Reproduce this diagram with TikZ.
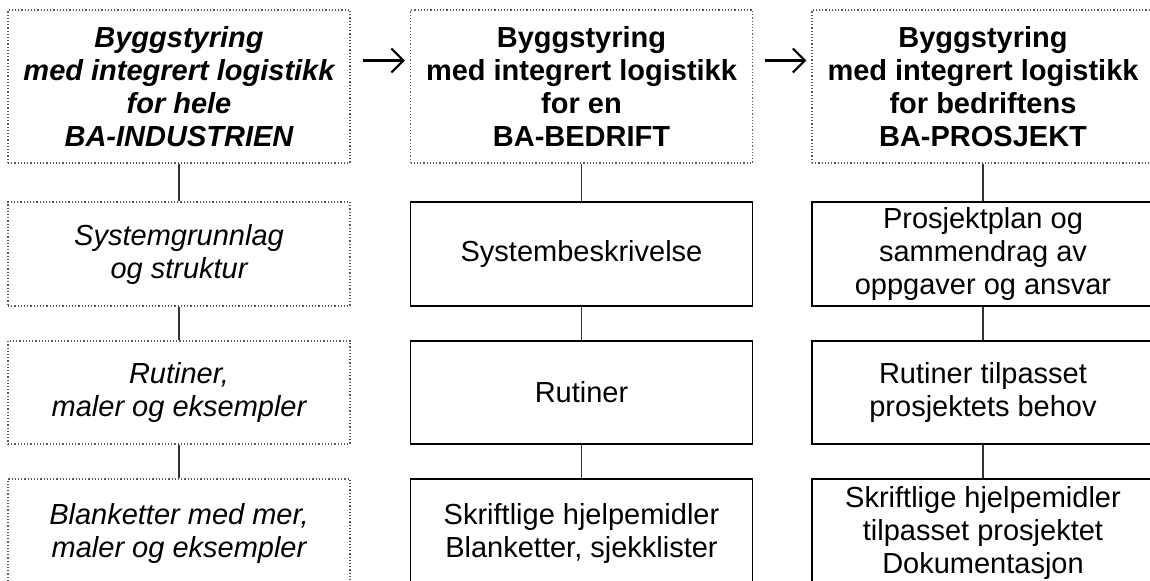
\documentclass[tikz,border=0pt]{standalone}
\usepackage{fontspec}
\setmainfont{Liberation Sans}
\usetikzlibrary{arrows.meta}
\newcommand\boxfont{\fontsize{14.5}{16.5}\selectfont}
\tikzset{
  box/.style={minimum width=171pt, inner sep=0pt, align=center, font=\boxfont},
  dotbox/.style={box, draw=black!65, densely dotted, line width=0.6pt},
  solidbox/.style={box, draw=black, line width=0.9pt},
  link/.style={draw=black!80, line width=0.7pt},
  goes/.style={-{Straight Barb[length=6pt,width=12pt]}, line width=1.1pt, shorten <=6pt, shorten >=2.5pt}
}
\begin{document}
\begin{tikzpicture}[x=0.5pt,y=-0.5pt]
  \useasboundingbox (0,0) rectangle (1150,580);
  \clip (0,0) rectangle (1150,580);
  % left column: the whole industry
  \node[dotbox, minimum height=76.5pt, font=\boxfont\bfseries\itshape] (ind) at (179,86.5) {Byggstyring\\med integrert logistikk\\for hele\\BA-INDUSTRIEN};
  \node[dotbox, minimum height=52pt, font=\boxfont\itshape] (sysg) at (179,254) {Systemgrunnlag\\og struktur};
  \node[dotbox, minimum height=51.5pt, font=\boxfont\itshape] (rut1) at (179,392.5) {Rutiner,\\maler og eksempler};
  \node[dotbox, minimum height=54pt, font=\boxfont\itshape] (blank) at (179,533) {Blanketter med mer,\\maler og eksempler};
  % middle column: one company
  \node[dotbox, minimum height=76.5pt, font=\boxfont\bfseries] (bed) at (581.5,86.5) {Byggstyring\\med integrert logistikk\\for en\\BA-BEDRIFT};
  \node[solidbox, minimum height=52pt] (sysb) at (581.5,254) {Systembeskrivelse};
  \node[solidbox, minimum height=51.5pt] (rut2) at (581.5,392.5) {Rutiner};
  \node[solidbox, minimum height=54pt] (skr2) at (581.5,533) {Skriftlige hjelpemidler\\Blanketter, sjekklister};
  % right column: the company's project
  \node[dotbox, minimum height=76.5pt, font=\boxfont\bfseries] (pro) at (983,86.5) {Byggstyring\\med integrert logistikk\\for bedriftens\\BA-PROSJEKT};
  \node[solidbox, minimum height=52pt] (plan) at (983,254) {Prosjektplan og\\sammendrag av\\oppgaver og ansvar};
  \node[solidbox, minimum height=51.5pt] (rut3) at (983,392.5) {Rutiner tilpasset\\prosjektets behov};
  \node[solidbox, minimum height=54pt] (skr3) at (983,533) {Skriftlige hjelpemidler\\tilpasset prosjektet\\Dokumentasjon};
  % vertical links
  \draw[link] (ind) -- (sysg);
  \draw[link] (sysg) -- (rut1);
  \draw[link] (rut1) -- (blank);
  \draw[link] (bed) -- (sysb);
  \draw[link] (sysb) -- (rut2);
  \draw[link] (rut2) -- (skr2);
  \draw[link] (pro) -- (plan);
  \draw[link] (plan) -- (rut3);
  \draw[link] (rut3) -- (skr3);
  % arrows between the levels
  \draw[goes] ([yshift=13pt]ind.east) -- ([yshift=13pt]bed.west);
  \draw[goes] ([yshift=13pt]bed.east) -- ([yshift=13pt]pro.west);
\end{tikzpicture}
\end{document}
